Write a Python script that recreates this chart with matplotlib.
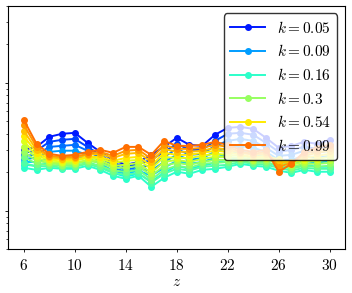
import numpy as np
import matplotlib
matplotlib.use("Agg")
import matplotlib.pyplot as plt
from matplotlib.ticker import NullFormatter

plt.rcParams["font.family"] = "serif"
plt.rcParams["font.serif"] = ["cmr10", "DejaVu Serif"]
plt.rcParams["mathtext.fontset"] = "cm"
plt.rcParams["axes.formatter.use_mathtext"] = True

# redshift grid
z_vals = list(range(6, 31))

# k values of the curves (only every third one goes in the legend)
k_values = [0.05, 0.061, 0.074, 0.091, 0.111, 0.135, 0.1648, 0.201,
            0.245, 0.299, 0.365, 0.445, 0.543, 0.663, 0.808, 0.986]
legend_every = 3

# one row per z, one column per k
y_table = [
    [3.00, 2.84, 2.69, 2.55, 2.41, 2.29, 2.17, 2.37, 2.64, 2.89, 3.16, 3.52, 3.85, 4.22, 4.70, 5.14],
    [3.16, 2.95, 2.74, 2.59, 2.41, 2.25, 2.09, 2.21, 2.33, 2.46, 2.59, 2.69, 2.84, 3.00, 3.16, 3.34],
    [3.79, 3.46, 3.16, 2.89, 2.59, 2.37, 2.17, 2.25, 2.29, 2.37, 2.41, 2.50, 2.55, 2.64, 2.69, 2.79],
    [4.00, 3.59, 3.22, 2.95, 2.64, 2.37, 2.13, 2.17, 2.25, 2.29, 2.37, 2.41, 2.50, 2.55, 2.64, 2.69],
    [4.07, 3.65, 3.28, 2.95, 2.64, 2.37, 2.13, 2.21, 2.25, 2.33, 2.37, 2.46, 2.50, 2.59, 2.64, 2.74],
    [3.40, 3.16, 2.95, 2.74, 2.59, 2.41, 2.25, 2.33, 2.37, 2.46, 2.50, 2.59, 2.64, 2.74, 2.79, 2.89],
    [2.89, 2.74, 2.59, 2.46, 2.33, 2.21, 2.09, 2.17, 2.25, 2.37, 2.46, 2.55, 2.64, 2.79, 2.89, 3.00],
    [2.50, 2.37, 2.29, 2.17, 2.06, 1.98, 1.88, 1.98, 2.06, 2.17, 2.25, 2.37, 2.46, 2.59, 2.69, 2.84],
    [2.29, 2.21, 2.09, 2.02, 1.95, 1.85, 1.78, 1.91, 2.02, 2.17, 2.29, 2.46, 2.59, 2.79, 2.95, 3.16],
    [2.41, 2.33, 2.21, 2.13, 2.06, 1.95, 1.88, 1.98, 2.09, 2.25, 2.37, 2.50, 2.64, 2.84, 3.00, 3.16],
    [2.74, 2.50, 2.25, 2.06, 1.88, 1.69, 1.54, 1.66, 1.75, 1.88, 1.98, 2.13, 2.25, 2.41, 2.55, 2.74],
    [3.16, 2.89, 2.64, 2.41, 2.17, 1.98, 1.81, 1.95, 2.09, 2.25, 2.41, 2.64, 2.84, 3.05, 3.28, 3.52],
    [3.72, 3.34, 3.05, 2.74, 2.46, 2.25, 2.02, 2.13, 2.25, 2.37, 2.50, 2.59, 2.74, 2.89, 3.05, 3.22],
    [3.28, 3.00, 2.74, 2.50, 2.33, 2.13, 1.95, 2.06, 2.17, 2.29, 2.41, 2.59, 2.74, 2.89, 3.05, 3.22],
    [3.22, 3.00, 2.79, 2.59, 2.41, 2.25, 2.09, 2.21, 2.33, 2.41, 2.55, 2.69, 2.84, 2.95, 3.11, 3.28],
    [3.93, 3.52, 3.22, 2.89, 2.59, 2.37, 2.13, 2.25, 2.37, 2.50, 2.64, 2.79, 2.95, 3.11, 3.28, 3.46],
    [4.45, 4.00, 3.52, 3.11, 2.79, 2.50, 2.21, 2.29, 2.41, 2.50, 2.64, 2.74, 2.89, 3.00, 3.16, 3.28],
    [4.53, 4.07, 3.65, 3.22, 2.89, 2.59, 2.33, 2.41, 2.46, 2.55, 2.59, 2.69, 2.74, 2.84, 2.89, 3.00],
    [4.37, 3.93, 3.52, 3.11, 2.79, 2.50, 2.25, 2.33, 2.37, 2.46, 2.50, 2.59, 2.64, 2.74, 2.79, 2.89],
    [3.72, 3.40, 3.11, 2.89, 2.64, 2.41, 2.21, 2.29, 2.37, 2.46, 2.55, 2.59, 2.69, 2.79, 2.89, 3.00],
    [3.11, 2.89, 2.69, 2.50, 2.37, 2.21, 2.06, 2.17, 2.29, 2.41, 2.50, 2.55, 2.50, 2.37, 2.21, 2.02],
    [3.22, 3.00, 2.74, 2.50, 2.33, 2.17, 1.98, 2.06, 2.13, 2.21, 2.29, 2.37, 2.41, 2.41, 2.37, 2.33],
    [3.46, 3.16, 2.95, 2.69, 2.46, 2.29, 2.09, 2.17, 2.25, 2.33, 2.41, 2.50, 2.59, 2.69, 2.79, 2.89],
    [3.34, 3.05, 2.84, 2.59, 2.37, 2.21, 2.02, 2.13, 2.21, 2.33, 2.46, 2.55, 2.69, 2.84, 2.95, 3.11],
    [3.59, 3.28, 2.95, 2.69, 2.46, 2.21, 2.02, 2.13, 2.25, 2.37, 2.50, 2.64, 2.79, 2.95, 3.11, 3.28],
]

x_ticks = [6, 10, 14, 18, 22, 26, 30]

y = np.array(y_table)
colors = plt.cm.jet(np.linspace(0.15, 0.79, len(k_values)))

fig = plt.figure(figsize=(3.52, 2.93), dpi=100)
ax = fig.add_axes([0.0241, 0.149, 0.956, 0.831])

for i, k in enumerate(k_values):
    label = None
    if i % legend_every == 0:
        label = r"$k = %g$" % round(k, 2)
    ax.plot(z_vals, y[:, i], "-o", color=colors[i], lw=1.4, ms=4, label=label)

ax.set_yscale("log")
ax.set_ylim(0.5, 40)
ax.yaxis.set_major_formatter(NullFormatter())
ax.yaxis.set_minor_formatter(NullFormatter())
ax.set_xticks(x_ticks)
ax.tick_params(labelsize=11, length=2.5, width=0.6)
ax.tick_params(which="minor", length=1.5, width=0.5)
ax.set_xlabel(r"$z$", fontsize=11, labelpad=2)

leg = ax.legend(loc="upper right", fontsize=11, handlelength=2.3,
                edgecolor="k", framealpha=0.8)

fig.savefig("out.png", dpi=100)
